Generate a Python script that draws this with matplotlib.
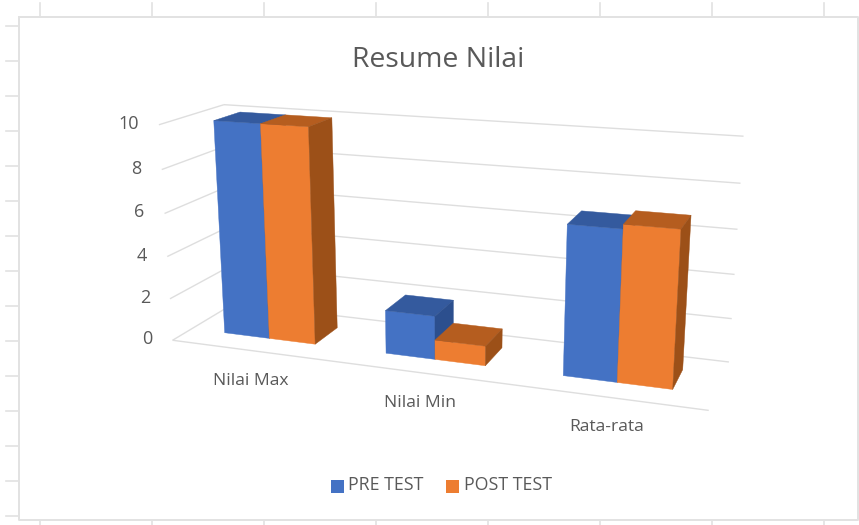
import matplotlib
matplotlib.use("Agg")
import matplotlib.pyplot as plt
from matplotlib.patches import Polygon, Rectangle
import numpy as np

plt.rcParams['font.family'] = ['Open Sans', 'DejaVu Sans']

categories = ["Nilai Max", "Nilai Min", "Rata-rata"]
pre_test = [10, 2, 6.65]
post_test = [10, 0.9, 6.85]
value_ticks = [0, 2, 4, 6, 8, 10]
title = "Resume Nilai"

BLUE = ["#4472C4", "#345A9E", "#2C4F8E"]  # front, top, side
ORANGE = ["#ED7D31", "#B55D1F", "#9C5018"]
GRID = "#DEDEDE"
TEXT = "#595959"
FRAME = "#E2E2E2"

GAP = 0.214
BAR = 0.286
D0, D1 = 0.30, 0.72

# box corners in category/depth/value space and where they land on screen
corners = [
	((0, 0, 0), (173, 339)),
	((3, 0, 0), (709, 410)),
	((0, 1, 0), (233, 305)),
	((3, 1, 0), (729, 362)),
	((0, 0, 10), (158, 123)),
	((0, 1, 10), (225, 106)),
	((3, 1, 10), (743, 133)),
	((3, 0, 10), (724, 167)),
]


def fit_camera(pairs):
	#least squares fit of a 3x4 projection
	A = []
	for (x, y, z), (u, v) in pairs:
		A.append([x, y, z, 1, 0, 0, 0, 0, -u*x, -u*y, -u*z, -u])
		A.append([0, 0, 0, 0, x, y, z, 1, -v*x, -v*y, -v*z, -v])
	_, _, vt = np.linalg.svd(np.array(A, dtype=float))
	return vt[-1].reshape(3, 4)


P = fit_camera(corners)


def proj(x, y, z):
	h = P @ np.array([x, y, z, 1.0])
	return h[0] / h[2], h[1] / h[2]


def face(ax, pts, color):
	ax.add_patch(Polygon([proj(*p) for p in pts], closed=True, fc=color, ec=color, lw=0.3, zorder=3))


def draw_bar(ax, x0, x1, val, colors):
	face(ax, [(x0, D0, 0), (x1, D0, 0), (x1, D0, val), (x0, D0, val)], colors[0])
	face(ax, [(x0, D0, val), (x1, D0, val), (x1, D1, val), (x0, D1, val)], colors[1])
	face(ax, [(x1, D0, 0), (x1, D1, 0), (x1, D1, val), (x1, D0, val)], colors[2])


def grid_line(ax, a, b):
	pa, pb = proj(*a), proj(*b)
	ax.plot([pa[0], pb[0]], [pa[1], pb[1]], color=GRID, lw=1.0, solid_capstyle="butt", zorder=1)


fig = plt.figure(figsize=(8.59, 5.25), dpi=100)
ax = fig.add_axes([0, 0, 1, 1])
ax.set_xlim(0, 859)
ax.set_ylim(525, 0)
ax.axis("off")

# spreadsheet chart frame and the cell ticks around it
ax.plot([19, 858, 858, 19, 19], [17, 17, 520, 520, 17], color=FRAME, lw=1.4)
for x in np.arange(40, 859, 112):
	ax.plot([x, x], [3, 17], color=FRAME, lw=1.2)
	ax.plot([x, x], [520, 525], color=FRAME, lw=1.2)
for y in np.arange(26, 520, 35):
	ax.plot([6, 19], [y, y], color=FRAME, lw=1.2)

for v in value_ticks:
	grid_line(ax, (0, 0, v), (0, 1, v))
	grid_line(ax, (0, 1, v), (3, 1, v))
	px, py = proj(0, 0, v)
	ax.text(px - 20, py - 1, str(v), ha="right", va="center", fontsize=13, color=TEXT)
grid_line(ax, (0, 0, 0), (3, 0, 0))

for i in range(len(categories)):
	draw_bar(ax, i + GAP, i + GAP + BAR, pre_test[i], BLUE)
	draw_bar(ax, i + GAP + BAR, i + GAP + 2*BAR, post_test[i], ORANGE)
	px, py = proj(i + 0.5, 0, 0)
	ax.text(px - 1, py + 30, categories[i], ha="center", va="center", fontsize=12.6, color=TEXT)

ax.text(438, 60, title, ha="center", va="center", fontsize=20.4, color=TEXT)

ax.add_patch(Rectangle((331, 480), 13, 13, fc=BLUE[0], ec="none"))
ax.text(348, 485.5, "PRE TEST", ha="left", va="center", fontsize=12.8, color=TEXT)
ax.add_patch(Rectangle((446, 480), 13, 13, fc=ORANGE[0], ec="none"))
ax.text(464, 485.5, "POST TEST", ha="left", va="center", fontsize=12.8, color=TEXT)

fig.savefig("out.png", dpi=100)
